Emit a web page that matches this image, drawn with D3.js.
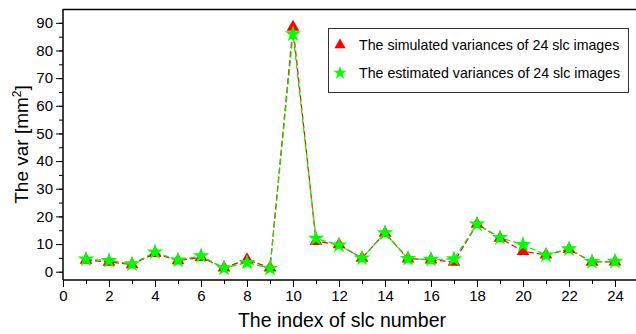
<!DOCTYPE html>
<html>
<head>
<meta charset="utf-8">
<script src="https://cdn.jsdelivr.net/npm/d3@7"></script>
<style>
  body { margin: 0; background: #fff; }
  svg { display: block; font-family: "Liberation Sans", Arial, sans-serif; }
</style>
</head>
<body>
<svg id="chart" width="636" height="334"></svg>
<script>
// индексы снимков и две серии дисперсий
const slcIndex = d3.range(1, 25);
const simulatedVar = [4.2, 3.5, 2.6, 6.6, 4.0, 5.2, 1.4, 4.4, 1.4, 88.5, 11.0, 9.8, 4.9, 14.0, 4.7, 4.3, 3.5, 17.2, 12.2, 7.4, 6.1, 8.1, 3.5, 3.6];
const estimatedVar = [4.5, 4.0, 2.8, 7.1, 4.2, 5.7, 1.3, 3.3, 1.2, 86.0, 12.0, 9.6, 4.9, 14.0, 4.7, 4.4, 4.6, 17.2, 12.3, 9.8, 6.0, 8.2, 3.6, 3.7];
const xTicks = d3.range(0, 25, 2);
const yTicks = d3.range(0, 91, 10);
const legendLabels = ["The simulated variances of 24 slc images", "The estimated variances of 24 slc images"];

const svg = d3.select("#chart");
const margin = {top: 9, left: 63, bottom: 54};
const W = 636, H = 334;

const x = d3.scaleLinear().domain([0, 25]).range([margin.left, margin.left + 25 * 23]);
const y = d3.scaleLinear().domain([-3, 95]).range([H - margin.bottom, margin.top]);

// рамка сверху
svg.append("line")
  .attr("x1", margin.left).attr("x2", W)
  .attr("y1", margin.top + 0.5).attr("y2", margin.top + 0.5)
  .attr("stroke", "#000").attr("stroke-width", 1.5);

// ось X
const gx = svg.append("g").attr("transform", `translate(0,${H - margin.bottom})`);
gx.call(d3.axisBottom(x).tickValues(d3.range(0, 26, 1)).tickSize(4).tickFormat(""));
gx.call(g => g.select(".domain").attr("d", `M${margin.left},0H${W}`).attr("stroke-width", 1.5));
const gx2 = svg.append("g").attr("transform", `translate(0,${H - margin.bottom})`);
gx2.call(d3.axisBottom(x).tickValues(xTicks).tickSize(7).tickPadding(3))
  .call(g => g.select(".domain").remove())
  .call(g => g.selectAll("text").attr("font-size", 15).attr("font-family", "Liberation Sans, Arial, sans-serif").attr("fill", "#000"));

// ось Y
const gy = svg.append("g").attr("transform", `translate(${margin.left},0)`);
gy.call(d3.axisLeft(y).tickValues(d3.range(0, 95, 5)).tickSize(4).tickFormat(""))
  .call(g => g.select(".domain").attr("d", `M0,${H - margin.bottom}V${margin.top}`).attr("stroke-width", 1.5));
const gy2 = svg.append("g").attr("transform", `translate(${margin.left},0)`);
gy2.call(d3.axisLeft(y).tickValues(yTicks).tickSize(7).tickPadding(3))
  .call(g => g.select(".domain").remove())
  .call(g => g.selectAll("text").attr("font-size", 15).attr("font-family", "Liberation Sans, Arial, sans-serif").attr("fill", "#000"));

// подписи осей
svg.append("text")
  .attr("x", 342).attr("y", 327)
  .attr("text-anchor", "middle").attr("font-size", 19.5)
  .text("The index of slc number");

const yl = svg.append("text")
  .attr("transform", `translate(28,${(margin.top + H - margin.bottom) / 2}) rotate(-90)`)
  .attr("text-anchor", "middle").attr("font-size", 19);
yl.append("tspan").text("The var [mm");
yl.append("tspan").attr("font-size", 12).attr("dy", -7).text("2");
yl.append("tspan").attr("dy", 7).text("]");

const line = d3.line().x((d, i) => x(slcIndex[i])).y(d => y(d));

svg.append("path").datum(simulatedVar)
  .attr("d", line).attr("fill", "none")
  .attr("stroke", "#ff0000").attr("stroke-width", 1.2).attr("stroke-dasharray", "6,3");
svg.append("path").datum(estimatedVar)
  .attr("d", line).attr("fill", "none")
  .attr("stroke", "#00ee00").attr("stroke-width", 1.2).attr("stroke-dasharray", "6,3");

const tri = d3.symbol().type(d3.symbolTriangle).size(70);
const star = d3.symbol().type(d3.symbolStar).size(85);

svg.append("g").selectAll("path").data(simulatedVar).join("path")
  .attr("d", tri).attr("fill", "#ff0000")
  .attr("transform", (d, i) => `translate(${x(slcIndex[i])},${y(d)})`);
svg.append("g").selectAll("path").data(estimatedVar).join("path")
  .attr("d", star).attr("fill", "#00ff00")
  .attr("transform", (d, i) => `translate(${x(slcIndex[i])},${y(d)})`);

// легенда
const leg = svg.append("g").attr("transform", "translate(328,28)");
leg.append("rect").attr("x", 0.5).attr("y", 0.5).attr("width", 300).attr("height", 64)
  .attr("fill", "#fff").attr("stroke", "#333");
const legSymbols = [d3.symbol().type(d3.symbolTriangle).size(55), d3.symbol().type(d3.symbolStar).size(55)];
const legColors = ["#ff0000", "#00ff00"];
legendLabels.forEach((t, i) => {
  leg.append("path").attr("d", legSymbols[i]).attr("fill", legColors[i])
    .attr("transform", `translate(12,${17 + i * 28})`);
  leg.append("text").attr("x", 31).attr("y", 22 + i * 28)
    .attr("font-size", 14.2).text(t);
});
</script>
</body>
</html>
